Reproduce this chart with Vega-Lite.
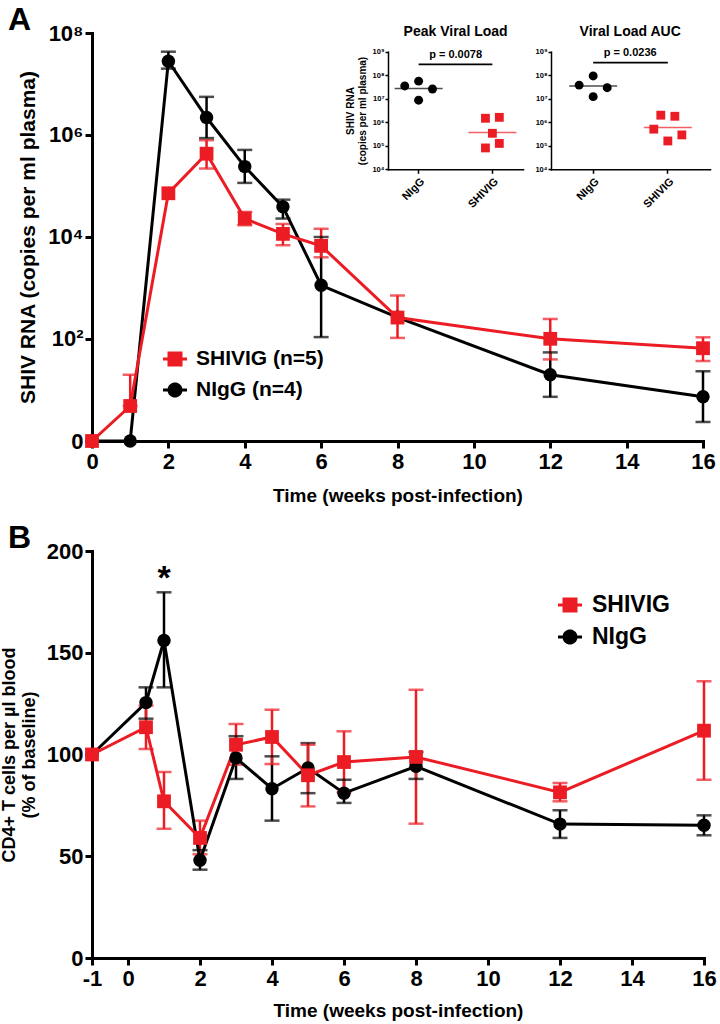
{
  "$schema": "https://vega.github.io/schema/vega-lite/v6.json",
  "padding": {"left": 0, "top": 4, "right": 4, "bottom": 2},
  "background": "white",
  "config": {
    "font": "Liberation Sans, Arial, sans-serif",
    "view": {"stroke": null},
    "axis": {"grid": false, "domainColor": "black", "domainWidth": 3, "tickColor": "black", "tickWidth": 3, "tickSize": 7, "labelColor": "black", "labelFontWeight": "bold", "titleColor": "black", "titleFontWeight": "bold", "labelOverlap": false, "labelFlush": false, "domainCap": "square"},
    "legend": {"labelColor": "black", "labelFontWeight": "bold"},
    "title": {"color": "black", "fontWeight": "bold"}
  },
  "datasets": {
    "A": [
      {"g": "NIgG (n=4)", "week": 0, "v": 0, "lo": null, "hi": null},
      {"g": "NIgG (n=4)", "week": 1, "v": 0, "lo": null, "hi": null},
      {"g": "NIgG (n=4)", "week": 2, "v": 28000000, "lo": 20000000, "hi": 43000000},
      {"g": "NIgG (n=4)", "week": 3, "v": 2200000, "lo": 870000, "hi": 5600000},
      {"g": "NIgG (n=4)", "week": 4, "v": 240000, "lo": 115000, "hi": 510000},
      {"g": "NIgG (n=4)", "week": 5, "v": 39000, "lo": 23000, "hi": 54000},
      {"g": "NIgG (n=4)", "week": 6, "v": 1130, "lo": 108, "hi": 10000},
      {"g": "NIgG (n=4)", "week": 8, "v": 265, "lo": null, "hi": null},
      {"g": "NIgG (n=4)", "week": 12, "v": 18.9, "lo": 6.35, "hi": 53.6},
      {"g": "NIgG (n=4)", "week": 16, "v": 6.35, "lo": 1.36, "hi": 22.3},
      {"g": "SHIVIG (n=5)", "week": 0, "v": 0, "lo": null, "hi": null},
      {"g": "SHIVIG (n=5)", "week": 1, "v": 3.86, "lo": 3.86, "hi": 18.9},
      {"g": "SHIVIG (n=5)", "week": 2, "v": 72000, "lo": null, "hi": null},
      {"g": "SHIVIG (n=5)", "week": 3, "v": 430000, "lo": 220000, "hi": 790000},
      {"g": "SHIVIG (n=5)", "week": 4, "v": 23000, "lo": 17000, "hi": 31000},
      {"g": "SHIVIG (n=5)", "week": 5, "v": 11500, "lo": 6900, "hi": 18000},
      {"g": "SHIVIG (n=5)", "week": 6, "v": 6700, "lo": 4000, "hi": 14500},
      {"g": "SHIVIG (n=5)", "week": 8, "v": 262, "lo": 104, "hi": 712},
      {"g": "SHIVIG (n=5)", "week": 12, "v": 100, "lo": 38.8, "hi": 246},
      {"g": "SHIVIG (n=5)", "week": 16, "v": 65, "lo": 36, "hi": 107}
    ],
    "B": [
      {"g": "NIgG", "week": -1, "v": 100, "lo": null, "hi": null},
      {"g": "NIgG", "week": 0.5, "v": 125.5, "lo": 117.6, "hi": 133},
      {"g": "NIgG", "week": 1, "v": 156, "lo": 133, "hi": 179.7},
      {"g": "NIgG", "week": 2, "v": 48, "lo": 43.4, "hi": 53},
      {"g": "NIgG", "week": 3, "v": 98.3, "lo": 88, "hi": 109},
      {"g": "NIgG", "week": 4, "v": 83.2, "lo": 67.5, "hi": 99.1},
      {"g": "NIgG", "week": 5, "v": 93.4, "lo": 81, "hi": 105.6},
      {"g": "NIgG", "week": 6, "v": 81, "lo": 76.2, "hi": 87.6},
      {"g": "NIgG", "week": 8, "v": 94.2, "lo": 88, "hi": 101.2},
      {"g": "NIgG", "week": 12, "v": 65.8, "lo": 59, "hi": 72.6},
      {"g": "NIgG", "week": 16, "v": 65.2, "lo": 60.3, "hi": 70.1},
      {"g": "SHIVIG", "week": -1, "v": 100, "lo": null, "hi": null},
      {"g": "SHIVIG", "week": 0.5, "v": 113.4, "lo": 102.7, "hi": 124},
      {"g": "SHIVIG", "week": 1, "v": 77, "lo": 63.5, "hi": 91.4},
      {"g": "SHIVIG", "week": 2, "v": 59, "lo": 51, "hi": 67.5},
      {"g": "SHIVIG", "week": 3, "v": 104.8, "lo": 95, "hi": 115},
      {"g": "SHIVIG", "week": 4, "v": 108.6, "lo": 95.3, "hi": 122},
      {"g": "SHIVIG", "week": 5, "v": 89.8, "lo": 74.5, "hi": 104.8},
      {"g": "SHIVIG", "week": 6, "v": 96.3, "lo": 81.4, "hi": 111.4},
      {"g": "SHIVIG", "week": 8, "v": 98.8, "lo": 66, "hi": 131.8},
      {"g": "SHIVIG", "week": 12, "v": 81.4, "lo": 77, "hi": 86},
      {"g": "SHIVIG", "week": 16, "v": 111.7, "lo": 87.6, "hi": 136}
    ],
    "peak": [
      {"g": "NIgG", "j": "a", "v": 35000000},
      {"g": "NIgG", "j": "c", "v": 56000000},
      {"g": "NIgG", "j": "e", "v": 26000000},
      {"g": "NIgG", "j": "c", "v": 8700000},
      {"g": "SHIVIG", "j": "b", "v": 1480000},
      {"g": "SHIVIG", "j": "d", "v": 1620000},
      {"g": "SHIVIG", "j": "c", "v": 340000},
      {"g": "SHIVIG", "j": "d", "v": 126000},
      {"g": "SHIVIG", "j": "b", "v": 81000}
    ],
    "peakMed": [
      {"g": "NIgG", "med": 27000000, "note": "p = 0.0078", "title": "Peak Viral Load", "bar": 290000000, "pY": 720000000, "tY": 6900000000},
      {"g": "SHIVIG", "med": 370000, "note": "p = 0.0078", "title": "Peak Viral Load", "bar": 290000000, "pY": 720000000, "tY": 6900000000}
    ],
    "auc": [
      {"g": "NIgG", "j": "a", "v": 38000000},
      {"g": "NIgG", "j": "c", "v": 93000000},
      {"g": "NIgG", "j": "e", "v": 29500000},
      {"g": "NIgG", "j": "c", "v": 12300000},
      {"g": "SHIVIG", "j": "b", "v": 2000000},
      {"g": "SHIVIG", "j": "d", "v": 1800000},
      {"g": "SHIVIG", "j": "a", "v": 510000},
      {"g": "SHIVIG", "j": "e", "v": 290000},
      {"g": "SHIVIG", "j": "c", "v": 160000}
    ],
    "aucMed": [
      {"g": "NIgG", "med": 35000000, "note": "p = 0.0236", "title": "Viral Load AUC", "bar": 340000000, "pY": 880000000, "tY": 6600000000},
      {"g": "SHIVIG", "med": 600000, "note": "p = 0.0236", "title": "Viral Load AUC", "bar": 340000000, "pY": 880000000, "tY": 6600000000}
    ]
  },
  "spacing": 17,
  "vconcat": [
    {
      "title": {"text": "A", "anchor": "start", "frame": "group", "dx": -84, "fontSize": 32, "offset": -15},
      "width": 611,
      "height": 408,
      "layer": [
        {
          "data": {"name": "A"},
          "encoding": {
            "x": {"field": "week", "type": "quantitative", "scale": {"domain": [0, 16], "nice": false},
                  "axis": {"orient": "bottom", "values": [0, 2, 4, 6, 8, 10, 12, 14, 16], "title": "Time (weeks post-infection)", "labelFontSize": 22, "titleFontSize": 19, "titlePadding": 14, "labelPadding": 3}},
            "y": {"field": "v", "type": "quantitative", "scale": {"type": "symlog", "constant": 1, "domain": [0, 100000000], "nice": false},
                  "axis": {"orient": "left", "values": [0, 100, 10000, 1000000, 100000000], "labelExpr": "datum.value == 0 ? '0' : '10' + ['⁰','¹','²','³','⁴','⁵','⁶','⁷','⁸','⁹'][round(log(datum.value)/LN10)]", "title": "SHIV RNA (copies per ml plasma)", "labelFontSize": 22, "titleFontSize": 21, "titlePadding": 9, "labelPadding": 2}},
            "color": {"field": "g", "type": "nominal", "scale": {"domain": ["SHIVIG (n=5)", "NIgG (n=4)"], "range": ["#ec1c24", "#000000"]},
                      "legend": {"orient": "none", "legendX": 71, "legendY": 314, "title": null, "labelFontSize": 21, "symbolSize": 576, "rowPadding": 9, "labelOffset": 9, "symbolStrokeWidth": 0,
                                 "encode": {"symbols": {"update": {"shape": {"signal": "datum.value === 'SHIVIG (n=5)' ? 'M-1,-0.125H-0.625V-0.625H0.625V-0.125H1V0.125H0.625V0.625H-0.625V0.125H-1Z' : 'M-1,-0.125H-0.6124A0.625,0.625 0 0 1 0.6124,-0.125H1V0.125H0.6124A0.625,0.625 0 0 1 -0.6124,0.125H-1Z'"}, "size": {"value": 576}, "strokeWidth": {"value": 0}}}}}}
          },
          "layer": [
            {"transform": [{"filter": "datum.lo != null"}], "mark": {"type": "rule", "strokeWidth": 2.5}, "encoding": {"y": {"field": "lo", "type": "quantitative"}, "y2": {"field": "hi"}}},
            {"transform": [{"filter": "datum.lo != null"}], "mark": {"type": "tick", "orient": "horizontal", "size": 15, "thickness": 2.5}, "encoding": {"y": {"field": "hi", "type": "quantitative"}}},
            {"transform": [{"filter": "datum.lo != null"}], "mark": {"type": "tick", "orient": "horizontal", "size": 15, "thickness": 2.5}, "encoding": {"y": {"field": "lo", "type": "quantitative"}}},
            {"mark": {"type": "line", "strokeWidth": 3}},
            {"transform": [{"filter": "datum.g == 'NIgG (n=4)'"}], "mark": {"type": "point", "shape": "circle", "size": 180, "filled": true, "opacity": 1, "strokeWidth": 0}},
            {"transform": [{"filter": "datum.g == 'SHIVIG (n=5)'"}], "mark": {"type": "point", "shape": "square", "size": 190, "filled": true, "opacity": 1, "strokeWidth": 0}}
          ]
        },
        {
          "data": {"name": "peak"},
          "encoding": {
            "x": {"field": "g", "type": "nominal", "scale": {"domain": ["NIgG", "SHIVIG"], "range": [296, 431], "paddingInner": 0.53, "paddingOuter": 0.18},
                  "axis": {"orient": "bottom", "offset": -271.7, "title": null, "labelAngle": -45, "labelFontSize": 11, "tickSize": 4, "tickWidth": 1.5, "domainWidth": 1.5, "labelPadding": 2}},
            "y": {"field": "v", "type": "quantitative", "scale": {"type": "log", "domain": [10000, 1000000000], "range": [136.3, 18.7], "nice": false},
                  "axis": {"orient": "left", "offset": -296, "values": [10000, 100000, 1000000, 10000000, 100000000, 1000000000], "labelExpr": "'10' + ['⁰','¹','²','³','⁴','⁵','⁶','⁷','⁸','⁹'][round(log(datum.value)/LN10)]", "title": ["SHIV RNA", "(copies per ml plasma)"], "titleFontSize": 10, "labelFontSize": 7.5, "tickSize": 3, "tickWidth": 1.5, "domainWidth": 1.5, "labelPadding": 1, "titlePadding": 4}},
            "color": {"field": "g", "type": "nominal", "scale": {"domain": ["NIgG", "SHIVIG"], "range": ["#000000", "#ec1c24"]}, "legend": null}
          },
          "layer": [
            {"mark": {"type": "point", "filled": true, "opacity": 1, "strokeWidth": 0},
             "encoding": {"xOffset": {"field": "j", "type": "nominal", "scale": {"domain": ["a", "b", "c", "d", "e"]}},
                          "shape": {"field": "g", "type": "nominal", "scale": {"domain": ["NIgG", "SHIVIG"], "range": ["circle", "square"]}, "legend": null},
                          "size": {"field": "g", "type": "nominal", "scale": {"domain": ["NIgG", "SHIVIG"], "range": [80, 78]}, "legend": null}}},
            {"data": {"name": "peakMed"}, "mark": {"type": "tick", "orient": "horizontal", "size": 48, "thickness": 1.5}, "encoding": {"y": {"field": "med", "type": "quantitative"}}},
            {"data": {"name": "peakMed"}, "mark": {"type": "line", "strokeWidth": 1.8, "color": "black"}, "encoding": {"y": {"field": "bar", "type": "quantitative"}, "color": {"value": "black"}}},
            {"data": {"name": "peakMed"}, "transform": [{"filter": "datum.g == 'NIgG'"}], "mark": {"type": "text", "fontSize": 11, "fontWeight": "bold", "dx": 37, "baseline": "middle", "color": "black"}, "encoding": {"y": {"field": "pY", "type": "quantitative"}, "text": {"field": "note"}, "color": {"value": "black"}}},
            {"data": {"name": "peakMed"}, "transform": [{"filter": "datum.g == 'NIgG'"}], "mark": {"type": "text", "fontSize": 14, "fontWeight": "bold", "dx": 37, "baseline": "middle", "color": "black"}, "encoding": {"y": {"field": "tY", "type": "quantitative"}, "text": {"field": "title"}, "color": {"value": "black"}}}
          ]
        },
        {
          "data": {"name": "auc"},
          "encoding": {
            "x": {"field": "g", "type": "nominal", "scale": {"domain": ["NIgG", "SHIVIG"], "range": [459, 618], "paddingInner": 0.53, "paddingOuter": 0.33},
                  "axis": {"orient": "bottom", "offset": -271.7, "title": null, "labelAngle": -45, "labelFontSize": 11, "tickSize": 4, "tickWidth": 1.5, "domainWidth": 1.5, "labelPadding": 2}},
            "y": {"field": "v", "type": "quantitative", "scale": {"type": "log", "domain": [10000, 1000000000], "range": [136.3, 18.7], "nice": false},
                  "axis": {"orient": "left", "offset": -459, "values": [10000, 100000, 1000000, 10000000, 100000000, 1000000000], "labelExpr": "'10' + ['⁰','¹','²','³','⁴','⁵','⁶','⁷','⁸','⁹'][round(log(datum.value)/LN10)]", "title": null, "labelFontSize": 7.5, "tickSize": 3, "tickWidth": 1.5, "domainWidth": 1.5, "labelPadding": 1}},
            "color": {"field": "g", "type": "nominal", "scale": {"domain": ["NIgG", "SHIVIG"], "range": ["#000000", "#ec1c24"]}, "legend": null}
          },
          "layer": [
            {"mark": {"type": "point", "filled": true, "opacity": 1, "strokeWidth": 0},
             "encoding": {"xOffset": {"field": "j", "type": "nominal", "scale": {"domain": ["a", "b", "c", "d", "e"]}},
                          "shape": {"field": "g", "type": "nominal", "scale": {"domain": ["NIgG", "SHIVIG"], "range": ["circle", "square"]}, "legend": null},
                          "size": {"field": "g", "type": "nominal", "scale": {"domain": ["NIgG", "SHIVIG"], "range": [80, 78]}, "legend": null}}},
            {"data": {"name": "aucMed"}, "mark": {"type": "tick", "orient": "horizontal", "size": 48, "thickness": 1.5}, "encoding": {"y": {"field": "med", "type": "quantitative"}}},
            {"data": {"name": "aucMed"}, "mark": {"type": "line", "strokeWidth": 1.8, "color": "black"}, "encoding": {"y": {"field": "bar", "type": "quantitative"}, "color": {"value": "black"}}},
            {"data": {"name": "aucMed"}, "transform": [{"filter": "datum.g == 'NIgG'"}], "mark": {"type": "text", "fontSize": 11, "fontWeight": "bold", "dx": 37, "baseline": "middle", "color": "black"}, "encoding": {"y": {"field": "pY", "type": "quantitative"}, "text": {"field": "note"}, "color": {"value": "black"}}},
            {"data": {"name": "aucMed"}, "transform": [{"filter": "datum.g == 'NIgG'"}], "mark": {"type": "text", "fontSize": 14, "fontWeight": "bold", "dx": 37, "baseline": "middle", "color": "black"}, "encoding": {"y": {"field": "tY", "type": "quantitative"}, "text": {"field": "title"}, "color": {"value": "black"}}}
          ]
        }
      ],
      "resolve": {
        "scale": {"x": "independent", "y": "independent", "color": "independent", "shape": "independent", "size": "independent", "xOffset": "independent"},
        "axis": {"x": "independent", "y": "independent"},
        "legend": {"color": "independent", "shape": "independent", "size": "independent"}
      }
    },
    {
      "title": {"text": "B", "anchor": "start", "frame": "group", "dx": -84, "fontSize": 32, "offset": -15},
      "width": 612,
      "height": 407,
      "data": {"name": "B"},
      "encoding": {
        "x": {"field": "week", "type": "quantitative", "scale": {"domain": [-1, 16], "nice": false},
              "axis": {"values": [-1, 0, 2, 4, 6, 8, 10, 12, 14, 16], "labelExpr": "replace(datum.label, '−', '-')", "title": "Time (weeks post-infection)", "labelFontSize": 22, "titleFontSize": 19, "titlePadding": 12, "labelPadding": 3}},
        "y": {"field": "v", "type": "quantitative", "scale": {"domain": [0, 200], "nice": false},
              "axis": {"values": [0, 50, 100, 150, 200], "title": ["CD4+ T cells per µl blood", "(% of baseline)"], "labelFontSize": 22, "titleFontSize": 18, "titlePadding": 8, "labelPadding": 2}},
        "color": {"field": "g", "type": "nominal", "scale": {"domain": ["SHIVIG", "NIgG"], "range": ["#ec1c24", "#000000"]},
                  "legend": {"orient": "none", "legendX": 466, "legendY": 560, "title": null, "labelFontSize": 23, "symbolSize": 576, "rowPadding": 8, "labelOffset": 10, "symbolStrokeWidth": 0,
                             "encode": {"symbols": {"update": {"shape": {"signal": "datum.value === 'SHIVIG' ? 'M-1,-0.125H-0.625V-0.625H0.625V-0.125H1V0.125H0.625V0.625H-0.625V0.125H-1Z' : 'M-1,-0.125H-0.6124A0.625,0.625 0 0 1 0.6124,-0.125H1V0.125H0.6124A0.625,0.625 0 0 1 -0.6124,0.125H-1Z'"}, "size": {"value": 576}, "strokeWidth": {"value": 0}}}}}}
      },
      "layer": [
        {"transform": [{"filter": "datum.lo != null"}], "mark": {"type": "rule", "strokeWidth": 2.5}, "encoding": {"y": {"field": "lo", "type": "quantitative"}, "y2": {"field": "hi"}}},
        {"transform": [{"filter": "datum.lo != null"}], "mark": {"type": "tick", "orient": "horizontal", "size": 15, "thickness": 2.5}, "encoding": {"y": {"field": "hi", "type": "quantitative"}}},
        {"transform": [{"filter": "datum.lo != null"}], "mark": {"type": "tick", "orient": "horizontal", "size": 15, "thickness": 2.5}, "encoding": {"y": {"field": "lo", "type": "quantitative"}}},
        {"mark": {"type": "line", "strokeWidth": 3}},
        {"transform": [{"filter": "datum.g == 'NIgG'"}], "mark": {"type": "point", "shape": "circle", "size": 180, "filled": true, "opacity": 1, "strokeWidth": 0}},
        {"transform": [{"filter": "datum.g == 'SHIVIG'"}], "mark": {"type": "point", "shape": "square", "size": 190, "filled": true, "opacity": 1, "strokeWidth": 0}},
        {"transform": [{"filter": "datum.g == 'NIgG' && datum.week == 1"}], "mark": {"type": "text", "text": "*", "fontSize": 34, "fontWeight": "bold", "baseline": "middle", "dy": 8, "color": "black"}, "encoding": {"y": {"datum": 190}, "color": {"value": "black"}}}
      ]
    }
  ]
}
